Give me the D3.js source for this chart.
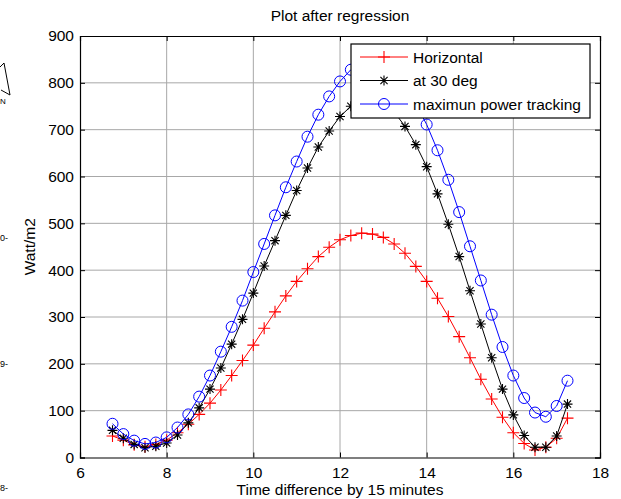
<!DOCTYPE html>
<html>
<head>
<meta charset="utf-8">
<script src="https://cdn.jsdelivr.net/npm/d3@7"></script>
<style>
  body { margin: 0; background: #fff; }
  svg { display: block; font-family: "Liberation Sans", Arial, sans-serif; }
</style>
</head>
<body>
<svg id="chart" width="621" height="499"></svg>
<script>
// sample times (15 minute steps)
const times = [6.75, 7, 7.25, 7.5, 7.75, 8, 8.25, 8.5, 8.75, 9, 9.25, 9.5, 9.75, 10, 10.25, 10.5,
  10.75, 11, 11.25, 11.5, 11.75, 12, 12.25, 12.5, 12.75, 13, 13.25, 13.5, 13.75, 14, 14.25, 14.5,
  14.75, 15, 15.25, 15.5, 15.75, 16, 16.25, 16.5, 16.75, 17, 17.25];

const horizontal = [46, 37, 27, 23, 28, 37, 53, 71, 92, 116, 144, 175, 207, 240, 276, 311,
  345, 376, 403, 429, 449, 465, 474, 479, 477, 470, 456, 436, 408, 376, 340, 301,
  258, 213, 167, 125, 86, 53, 30, 16, 22, 41, 84];

const at30deg = [58, 41, 28, 21, 24, 31, 48, 74, 106, 146, 191, 242, 295, 351, 409, 463,
  517, 570, 618, 663, 697, 728, 750, 762, 767, 760, 738, 707, 668, 621, 563, 498,
  429, 356, 285, 213, 146, 91, 47, 22, 22, 46, 114];

const maxTracking = [72, 50, 36, 29, 32, 43, 64, 92, 130, 175, 226, 279, 335, 396, 456, 517,
  577, 632, 685, 732, 771, 803, 828, 845, 851, 845, 825, 795, 755, 711, 656, 593,
  524, 451, 378, 305, 236, 175, 127, 96, 87, 110, 164];

const xTicks = [6, 8, 10, 12, 14, 16, 18];
const yTicks = [0, 100, 200, 300, 400, 500, 600, 700, 800, 900];

const seriesNames = ["Horizontal", "at 30 deg", "maximun power tracking"];
const seriesColors = ["#ff0000", "#000000", "#0000ff"];
const seriesMarkers = ["plus", "star", "circle"];

const margin = { top: 36, right: 21, bottom: 41.5, left: 80 };
const W = 621, H = 499;
const w = W - margin.left - margin.right;
const h = H - margin.top - margin.bottom;
const fontSize = 15.5;

const svg = d3.select("#chart");

// stray fragments at the left edge of the source image
svg.append("path").attr("d", "M0,67 L4,63 L10,95 L1,90").attr("fill", "none")
  .attr("stroke", "#000").attr("stroke-width", 1);
svg.append("text").attr("x", 0).attr("y", 104).attr("font-size", 8).text("N");
[["0-", 241], ["9-", 367], ["8-", 491]].forEach(([t, y]) => {
  svg.append("text").attr("x", 0).attr("y", y).attr("font-size", 9).text(t);
});

const g = svg.append("g").attr("transform", `translate(${margin.left},${margin.top})`);

const x = d3.scaleLinear().domain([6, 18]).range([0, w]);
const y = d3.scaleLinear().domain([0, 900]).range([h, 0]);

// grid
g.append("g").selectAll("line").data(xTicks.slice(1, -1)).join("line")
  .attr("x1", d => x(d)).attr("x2", d => x(d)).attr("y1", 0).attr("y2", h)
  .attr("stroke", "#a8a8a8").attr("stroke-width", 1);
g.append("g").selectAll("line").data(yTicks.slice(1, -1)).join("line")
  .attr("y1", d => y(d)).attr("y2", d => y(d)).attr("x1", 0).attr("x2", w)
  .attr("stroke", "#a8a8a8").attr("stroke-width", 1);

// axes (ticks inward, MATLAB style)
const axB = g.append("g").attr("transform", `translate(0,${h})`)
  .call(d3.axisBottom(x).tickValues(xTicks).tickSize(-5).tickPadding(9));
const axT = g.append("g")
  .call(d3.axisTop(x).tickValues(xTicks).tickSize(-5).tickFormat(""));
const axL = g.append("g")
  .call(d3.axisLeft(y).tickValues(yTicks).tickSize(-5).tickPadding(6));
const axR = g.append("g").attr("transform", `translate(${w},0)`)
  .call(d3.axisRight(y).tickValues(yTicks).tickSize(-5).tickFormat(""));
[axB, axT, axL, axR].forEach(a => {
  a.select(".domain").attr("stroke", "#000").attr("stroke-width", 1.2);
  a.selectAll(".tick line").attr("stroke", "#000");
  a.selectAll("text").attr("font-size", fontSize).attr("fill", "#000")
    .attr("font-family", "Liberation Sans, Arial, sans-serif");
});

// markers
function drawMarker(sel, type, color) {
  if (type === "circle") {
    sel.append("circle").attr("r", 5.5).attr("fill", "none").attr("stroke", color).attr("stroke-width", 1);
  } else if (type === "plus") {
    sel.append("path").attr("d", "M-6,0H6M0,-6V6").attr("stroke", color).attr("stroke-width", 1.1);
  } else {
    sel.append("path").attr("d", "M-5,0H5M0,-5V5M-3.6,-3.6L3.6,3.6M-3.6,3.6L3.6,-3.6")
      .attr("stroke", color).attr("stroke-width", 1.1);
  }
}

const allSeries = [horizontal, at30deg, maxTracking];
const line = d3.line().x(d => x(d[0])).y(d => y(d[1]));

allSeries.forEach((vals, i) => {
  const pts = times.map((t, j) => [t, vals[j]]);
  g.append("path").datum(pts).attr("d", line).attr("fill", "none")
    .attr("stroke", seriesColors[i]).attr("stroke-width", 1);
  g.append("g").selectAll("g").data(pts).join("g")
    .attr("transform", d => `translate(${x(d[0])},${y(d[1])})`)
    .each(function () { drawMarker(d3.select(this), seriesMarkers[i], seriesColors[i]); });
});

// labels
svg.append("text").attr("x", margin.left + w / 2).attr("y", 21).attr("text-anchor", "middle")
  .attr("font-size", fontSize).text("Plot after regression");
svg.append("text").attr("x", margin.left + w / 2).attr("y", 495).attr("text-anchor", "middle")
  .attr("font-size", fontSize).text("Time difference by 15 minutes");
svg.append("text").attr("transform", `translate(35,${margin.top + h / 2}) rotate(-90)`)
  .attr("text-anchor", "middle").attr("font-size", fontSize).text("Watt/m2");

// legend
const lg = svg.append("g").attr("transform", "translate(351,44)");
lg.append("rect").attr("width", 239).attr("height", 74).attr("fill", "#fff")
  .attr("stroke", "#000").attr("stroke-width", 1.2);
seriesNames.forEach((name, i) => {
  const yy = 13 + i * 23.5;
  const row = lg.append("g").attr("transform", `translate(0,${yy})`);
  row.append("line").attr("x1", 9).attr("x2", 57).attr("stroke", seriesColors[i]).attr("stroke-width", 1);
  const m = row.append("g").attr("transform", "translate(33,0)");
  drawMarker(m, seriesMarkers[i], seriesColors[i]);
  row.append("text").attr("x", 62).attr("y", 5.5).attr("font-size", fontSize).text(name);
});
</script>
</body>
</html>
